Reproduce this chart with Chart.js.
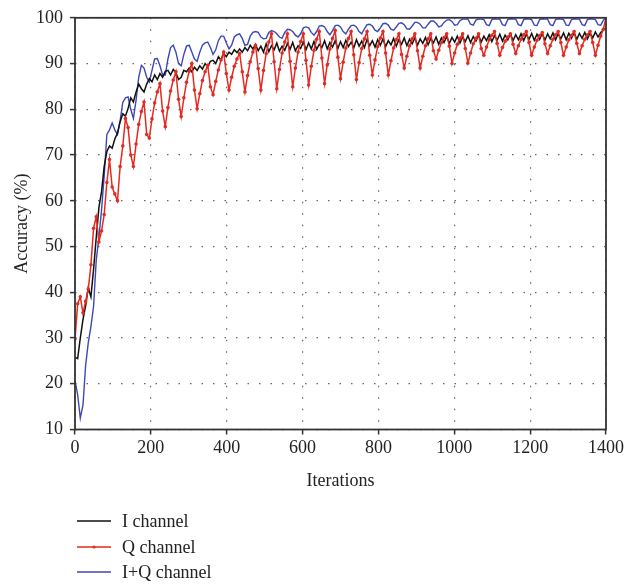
<!DOCTYPE html>
<html>
<head>
<meta charset="utf-8">
<script src="https://cdn.jsdelivr.net/npm/chart.js@4"></script>
<style>
  html, body { margin: 0; padding: 0; background: #fff; }
  #wrap { width: 639px; height: 587px; position: relative; }
</style>
</head>
<body>
<div id="wrap"><canvas id="c"></canvas></div>
<script>
// Sampling grid of the training curve (every 7 iterations, 0..1400)
const iterations = Array.from({length: 201}, (_, i) => i * 7);

const xTicks = [0, 200, 400, 600, 800, 1000, 1200, 1400];
const yTicks = [10, 20, 30, 40, 50, 60, 70, 80, 90, 100];
const seriesNames = ["I channel", "Q channel", "I+Q channel"];

const iChannel = [
  25.8, 25.5, 30, 34, 37, 41, 39, 45, 52, 58.5, 62, 67.5, 70.8, 72, 71.5, 73.5,
  74.8, 77.3, 79, 78.5, 80.2, 82.5, 81.6, 83.8, 85.5, 84.5, 83.8, 85.5, 86.7, 86, 87.5, 86.5,
  87.8, 87, 88.3, 88.5, 87.5, 88.7, 88, 86.5, 87, 88.5, 88.2, 89, 88.2, 89.2, 88.5, 89.5,
  88.8, 90, 89.3, 90.5, 90.7, 90, 91.5, 90.8, 92.2, 91.5, 92.5, 92, 93, 92.4, 93.2, 92.5,
  93.5, 92.8, 94, 93.2, 94.2, 92.8, 93.8, 92.5, 94.3, 92.6, 93.9, 93, 94.5, 92.7, 93.8, 92.9,
  94.4, 93.1, 94.6, 92.8, 93.9, 93.3, 94.7, 93, 94.5, 93.2, 94.8, 93.1, 94.2, 93.5, 95, 93.2,
  94.6, 93.6, 95, 93.3, 94.8, 93.5, 95.1, 93.7, 94.7, 93.4, 95.2, 93.8, 94.9, 93.5, 95.3, 93.9,
  95, 93.6, 95.2, 94, 95.4, 93.7, 95, 94.1, 95.5, 93.8, 95.2, 94.2, 95.6, 93.9, 95.3, 94.3,
  95.6, 94, 95.4, 94.4, 95.7, 94.1, 95.5, 94.5, 95.8, 94.2, 95.6, 94.6, 95.9, 94.4, 95.7, 94.7,
  96, 94.5, 95.8, 94.8, 96.1, 94.6, 95.9, 94.9, 96.2, 94.7, 96, 95, 96.3, 94.8, 96.1, 95.1,
  96.4, 94.9, 96.2, 95.2, 96.5, 95, 96.3, 95.2, 96.5, 95, 96.4, 95.3, 96.6, 95.1, 96.4, 95.3,
  96.6, 95.1, 96.5, 95.4, 96.7, 95.2, 96.5, 95.4, 96.7, 95.2, 96.6, 95.5, 96.8, 95.3, 96.6, 95.5,
  96.8, 95.4, 96.7, 95.6, 96.9, 95.8, 96.8, 97.3, 97.8
];

const qChannel = [
  29.8, 37.5, 39, 35.5, 38, 40.7, 46, 54, 56.5, 51, 53.4, 57, 64, 69, 63, 61.5,
  60, 67.5, 72, 78, 76, 70,
  67.5, 72.4, 76.7, 79.5, 81.6, 74.5,
  73.7, 77.9, 81.4, 83.8, 85.6, 79.6,
  76.2, 80.4, 84, 86.4, 88.2, 82.2,
  78.4, 82.5, 85.9, 88.3, 90, 84.2,
  80.1, 83.4, 86.3, 88.2, 89.6, 84.9,
  83.2, 86.1, 88.6, 90.8, 92.5, 87.8,
  84.2, 87, 89.4, 91, 92.2, 88.2,
  83.8, 87.4, 90.4, 92.5, 94, 88.9,
  84.2, 88.5, 92.2, 94.7, 96.5, 90.4,
  84.5, 88.7, 92.3, 94.7, 96.5, 90.5,
  84.9, 89, 92.5, 94.8, 96.5, 90.7,
  85.3, 89.4, 92.9, 95.3, 97, 91.2,
  85.6, 89.7, 93.2, 95.5, 97.2, 91.4,
  86.7, 90.3, 93.4, 95.5, 97, 91.9,
  86.5, 90.2, 93.3, 95.4, 97, 91.8,
  87.5, 90.8, 93.7, 95.6, 97, 92.3,
  87.5, 90.6, 93.4, 95.2, 96.5, 92,
  89, 91.6, 93.9, 95.4, 96.5, 92.8,
  89, 91.6, 93.9, 95.4, 96.5, 92.8,
  91, 92.9, 94.6, 95.7, 96.5, 93.8,
  90, 92.3, 94.2, 95.5, 96.5, 93.3,
  90.1, 92.3, 94.3, 95.5, 96.5, 93.3,
  91.8, 93.6, 95.2, 96.2, 97, 94.4,
  91.8, 93.5, 94.9, 95.8, 96.5, 94.2,
  92.2, 93.9, 95.3, 96.3, 97, 94.6,
  91.8, 93.6, 95.1, 96.1, 96.8, 94.3,
  92.2, 93.9, 95.3, 96.3, 97, 94.6,
  91.8, 93.6, 95.2, 96.2, 97, 94.4,
  92.2, 93.9, 95.3, 96.3, 97, 94.6,
  91.8, 94, 96, 97.5, 100
];

const iqChannel = [
  20.7, 17.6, 12.5, 15.3, 24, 29, 32.5, 37, 47, 52, 58, 65.5, 74.5, 75.5, 77, 75.5,
  74.5, 77.5, 81.5, 82.5, 82.7, 80, 78, 82, 87, 89.6, 89, 87, 86, 88.5, 91, 91.1,
  89.5, 87.5, 87.5, 91, 93.5, 94, 92.5, 90, 89.5, 92, 93.8, 94, 92.5, 91, 90.5, 92.5,
  94, 94.5, 94.7, 93.5, 92, 93, 95, 96, 96, 94.5, 93.2, 94, 95.8, 96.3, 96.5, 95.5,
  94, 94.2, 96, 96.8, 97, 96.8, 95.8, 95.4, 95.5, 96.8, 97.2, 97, 96.5, 95.8, 95.5, 96.8,
  97.5, 97.4, 97, 96.2, 95.8, 96.5, 97.8, 98, 97.8, 96.8, 96.2, 97, 98.2, 98.3, 98, 97,
  96.3, 97.2, 98.3, 98.4, 98, 97, 96.5, 97.5, 98.3, 98.4, 98, 97, 96.5, 97.6, 98.5, 98.6,
  98.2, 97.3, 97, 97.8, 98.7, 98.8, 98.4, 97.5, 97.3, 98, 98.8, 98.9, 98.5, 97.6, 97.5, 98.2,
  99, 99, 98.6, 97.8, 97.8, 98.6, 99.3, 99.3, 98.8, 98, 98.2, 99, 99.5, 99.6, 99.2, 98.4,
  98.5, 99.4, 99.7, 99.7, 99.7, 98.6, 98.4, 99.5, 99.7, 99.7, 99.6, 98.5, 98.3, 99.6, 99.8, 99.7,
  99.7, 98.5, 98.3, 99.6, 99.8, 99.7, 99.7, 98.5, 98.3, 99.6, 99.8, 99.7, 99.6, 98.4, 98.3, 99.6,
  99.8, 99.7, 99.7, 98.5, 98.3, 99.6, 99.8, 99.7, 99.6, 98.4, 98.3, 99.6, 99.8, 99.7, 99.7, 98.5,
  98.3, 99.6, 99.8, 99.7, 99.6, 98.5, 98.4, 99.5, 100
];

const seriesColors = ["#111111", "#e32b22", "#3d47b5"];
const FONT = "'Liberation Serif', 'DejaVu Serif', serif";

function toPoints(ys) { return ys.map((y, i) => ({x: iterations[i], y: y})); }

const boxPlugin = {
  id: 'box',
  afterDatasetsDraw(chart) {
    const {ctx, chartArea: a} = chart;
    ctx.save();
    ctx.strokeStyle = '#333';
    ctx.lineWidth = 1.8;
    ctx.strokeRect(a.left, a.top, a.right - a.left, a.bottom - a.top);
    ctx.restore();
  }
};

const legendPlugin = {
  id: 'customLegend',
  afterDraw(chart) {
    const {ctx} = chart;
    ctx.save();
    ctx.font = "18px " + FONT;
    ctx.textBaseline = 'middle';
    ctx.textAlign = 'left';
    const rows = [521, 547, 572];
    seriesNames.forEach((name, i) => {
      const y = rows[i];
      ctx.strokeStyle = seriesColors[i];
      ctx.lineWidth = 1.3;
      ctx.beginPath();
      ctx.moveTo(77, y);
      ctx.lineTo(111, y);
      ctx.stroke();
      if (i === 1) {
        ctx.fillStyle = seriesColors[i];
        ctx.beginPath();
        ctx.arc(94, y, 1.5, 0, Math.PI * 2);
        ctx.fill();
      }
      ctx.fillStyle = '#222';
      ctx.fillText(name, 122, y + 1);
    });
    ctx.restore();
  }
};

new Chart(document.getElementById('c'), {
  type: 'line',
  data: {
    datasets: [
      { label: seriesNames[0], data: toPoints(iChannel), borderColor: seriesColors[0],
        borderWidth: 1.5, pointRadius: 0, tension: 0, order: 2 },
      { label: seriesNames[1], data: toPoints(qChannel), borderColor: seriesColors[1],
        backgroundColor: seriesColors[1], borderWidth: 1.5, pointRadius: 1.8,
        pointBorderWidth: 0, pointBackgroundColor: seriesColors[1], tension: 0, order: 1 },
      { label: seriesNames[2], data: toPoints(iqChannel), borderColor: seriesColors[2],
        borderWidth: 1.4, pointRadius: 0, tension: 0, order: 3 }
    ]
  },
  options: {
    responsive: true,
    maintainAspectRatio: false,
    animation: false,
    layout: { padding: { left: 0, top: 16, right: 33, bottom: 95 } },
    plugins: { legend: { display: false }, tooltip: { enabled: false } },
    scales: {
      x: {
        type: 'linear', min: 0, max: 1400,
        afterBuildTicks(scale) { scale.ticks = xTicks.map(v => ({value: v})); },
        afterFit(scale) { scale.height = 62.5; },
        ticks: { color: '#222', font: { family: FONT, size: 18 }, padding: 3, maxRotation: 0,
                 callback: (v) => String(v) },
        grid: { color: '#666', lineWidth: 1.2, tickLength: 5, tickColor: '#333', tickWidth: 1.5 },
        border: { display: false, dash: [1.5, 10] },
        title: { display: true, text: 'Iterations', color: '#222',
                 font: { family: FONT, size: 18 }, padding: { top: 0, bottom: 0 } }
      },
      y: {
        min: 10, max: 100,
        afterBuildTicks(scale) { scale.ticks = yTicks.map(v => ({value: v})); },
        afterFit(scale) { scale.width = 75; },
        ticks: { color: '#222', font: { family: FONT, size: 18 }, padding: 7,
                 callback: (v) => String(v) },
        grid: { color: '#666', lineWidth: 1.2, tickLength: 5, tickColor: '#333', tickWidth: 1.5 },
        border: { display: false, dash: [1.5, 10] },
        title: { display: true, text: 'Accuracy (%)', color: '#222',
                 font: { family: FONT, size: 18 }, padding: { top: 11, bottom: 0 } }
      }
    }
  },
  plugins: [boxPlugin, legendPlugin]
});
</script>
</body>
</html>
